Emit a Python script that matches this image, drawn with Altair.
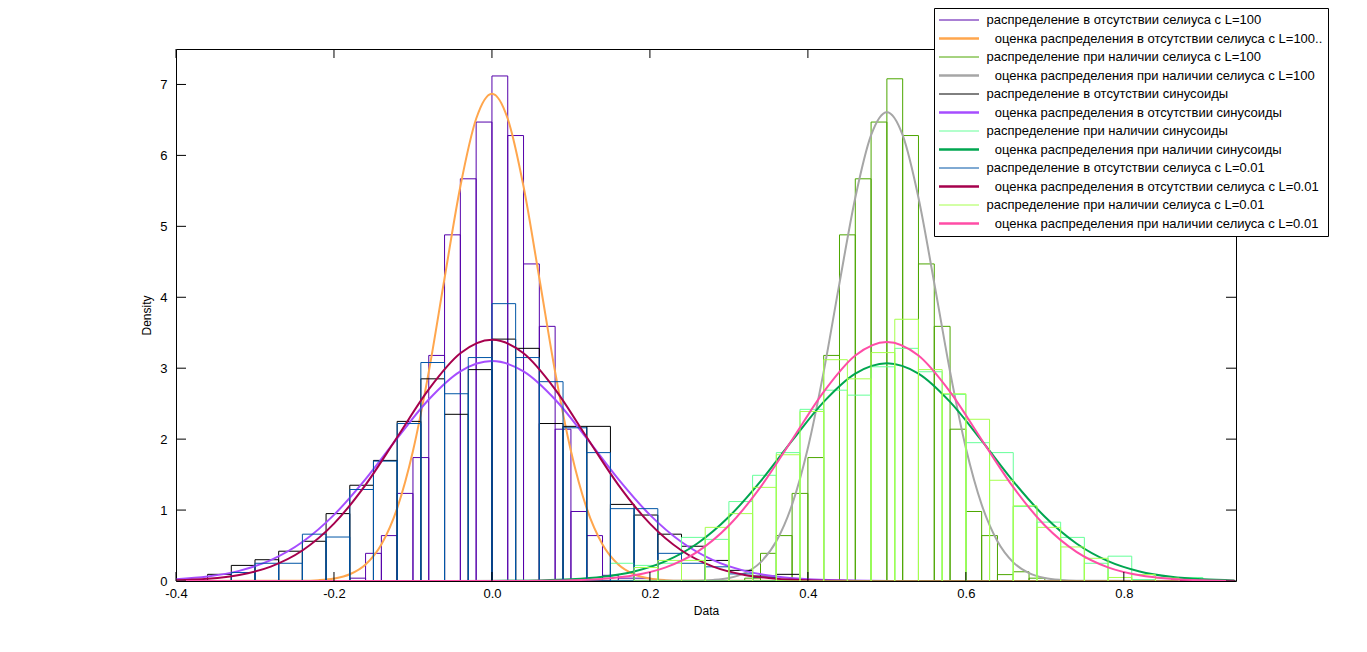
import altair as alt
import pandas as pd

FONT = "Liberation Sans"
PAD = "\u200b\u00a0\u00a0\u200a"

labels = [
    "распределение в отсутствии селиуса с L=100",
    PAD + "оценка распределения в отсутствии селиуса с L=100..",
    "распределение при наличии селиуса с L=100",
    PAD + "оценка распределения при наличии селиуса с L=100",
    "распределение в отсутствии синусоиды",
    PAD + "оценка распределения в отсутствии синусоиды",
    "распределение при наличии синусоиды",
    PAD + "оценка распределения при наличии синусоиды",
    "распределение в отсутствии селиуса с L=0.01",
    PAD + "оценка распределения в отсутствии селиуса с L=0.01",
    "распределение при наличии селиуса с L=0.01",
    PAD + "оценка распределения при наличии селиуса с L=0.01",
]
colors = [
    "#5500aa", "#ffa64d", "#4ca600", "#a6a6a6",
    "#000000", "#a64dff", "#66ff99", "#00a650",
    "#0055a6", "#a6004d", "#a6ff4d", "#ff4da6",
]

# histograms: first bin left edge, bin width, densities
h1_start, h1_width = -0.18, 0.02
h1_vals = [0.04, 0.39, 0.64, 1.235, 1.74, 3.18, 4.88, 5.67, 6.47, 7.12,
           6.28, 4.47, 3.59, 2.14, 0.98, 0.64, 0.08, 0.04, 0.04]
h2_start, h2_width = 0.32, 0.02
h2_vals = [0.04, 0.39, 0.64, 1.235, 1.74, 3.18, 4.88, 5.67, 6.47, 7.08,
           6.28, 4.47, 3.59, 2.14, 0.98, 0.64, 0.09, 0.13, 0.04]
h3_start, h3_width = -0.36, 0.03
h3_vals = [0.094, 0.22, 0.30, 0.42, 0.56, 0.95, 1.35, 1.70, 2.25, 2.85,
           2.35, 2.98, 3.41, 3.28, 2.22, 2.18, 2.18, 1.08, 0.93, 0.66,
           0.49, 0.29, 0.15, 0.07, 0.094]
h4_start, h4_width = 0.15, 0.03
h4_vals = [0.25, 0.22, 0.25, 0.615, 0.587, 1.12, 1.49, 1.81, 2.42, 2.69,
           2.62, 3.02, 3.28, 2.95, 2.63, 1.95, 1.81, 1.05, 0.83, 0.615,
           0.25, 0.35, 0.02, 0.0, 0.05, 0.02]
h5_start, h5_width = -0.33, 0.03
h5_vals = [0.12, 0.25, 0.25, 0.66, 0.62, 1.29, 1.69, 2.22, 3.08, 2.64,
           3.15, 3.91, 3.15, 2.81, 2.16, 1.81, 1.02, 1.02, 0.39, 0.25,
           0.20, 0.10, 0.05]
h6_start, h6_width = 0.18, 0.03
h6_vals = [0.19, 0.29, 0.29, 0.756, 0.95, 1.32, 1.78, 2.39, 3.12, 2.85,
           3.22, 3.69, 2.98, 2.64, 2.28, 1.42, 1.06, 0.756, 0.48, 0.32,
           0.05, 0.09, 0.04]

# fitted density curves
f1_x = [-0.40, -0.24, -0.22, -0.20, -0.18, -0.16, -0.14, -0.12, -0.10, -0.08, -0.06,
        -0.04, -0.02, 0.00, 0.02, 0.04, 0.06, 0.08, 0.10, 0.12, 0.14, 0.16, 0.18,
        0.20, 0.22, 0.24, 0.94]
f1_y = [0, 0.0034, 0.0114, 0.0347, 0.0948, 0.233, 0.515, 1.024, 1.832, 2.948, 4.268,
        5.561, 6.516, 6.87, 6.516, 5.561, 4.268, 2.948, 1.832, 1.024, 0.515, 0.233,
        0.0948, 0.0347, 0.0114, 0.0034, 0]
f2_x = [-0.40, 0.26, 0.28, 0.30, 0.32, 0.34, 0.36, 0.38, 0.40, 0.42, 0.44, 0.46, 0.48,
        0.50, 0.52, 0.54, 0.56, 0.58, 0.60, 0.62, 0.64, 0.66, 0.68, 0.70, 0.72, 0.74, 0.94]
f2_y = [0, 0.0047, 0.0149, 0.0428, 0.1116, 0.2627, 0.5595, 1.077, 1.875, 2.951, 4.200,
        5.403, 6.285, 6.61, 6.285, 5.403, 4.200, 2.951, 1.875, 1.077, 0.5595, 0.2627,
        0.1116, 0.0428, 0.0149, 0.0047, 0]
f3_x = [-0.40, -0.36, -0.32, -0.28, -0.24, -0.20, -0.16, -0.12, -0.08, -0.04, 0.00,
        0.04, 0.08, 0.12, 0.16, 0.20, 0.24, 0.28, 0.32, 0.36, 0.40, 0.44, 0.48, 0.52,
        0.56, 0.94]
f3_y = [0.0253, 0.0631, 0.143, 0.294, 0.549, 0.932, 1.437, 2.011, 2.558, 2.955, 3.10,
        2.955, 2.558, 2.011, 1.437, 0.932, 0.549, 0.294, 0.143, 0.0631, 0.0253, 0.0092,
        0.0031, 0.0009, 0.0002, 0]
f4_x = [-0.40, -0.06, -0.02, 0.02, 0.06, 0.10, 0.14, 0.18, 0.22, 0.26, 0.30, 0.34,
        0.38, 0.42, 0.46, 0.50, 0.54, 0.58, 0.62, 0.66, 0.70, 0.74, 0.78, 0.82, 0.86,
        0.90, 0.94]
f4_y = [0, 0.0002, 0.0008, 0.0027, 0.0083, 0.0233, 0.0588, 0.1349, 0.2806, 0.5293,
        0.9057, 1.405, 1.978, 2.525, 2.924, 3.07, 2.924, 2.525, 1.978, 1.405, 0.9057,
        0.5293, 0.2806, 0.1349, 0.0588, 0.0233, 0.0083]
f5_x = f3_x
f5_y = [0.0109, 0.0324, 0.0860, 0.2036, 0.4298, 0.8085, 1.356, 2.027, 2.702, 3.210,
        3.40, 3.210, 2.702, 2.027, 1.356, 0.8085, 0.4298, 0.2036, 0.0860, 0.0324,
        0.0109, 0.0033, 0.0009, 0.0002, 0.0, 0]
f6_x = f4_x
f6_y = [0, 0.0001, 0.0002, 0.0007, 0.0029, 0.0098, 0.0297, 0.0800, 0.1924, 0.4111,
        0.7818, 1.323, 1.992, 2.667, 3.179, 3.37, 3.179, 2.667, 1.992, 1.323, 0.7818,
        0.4111, 0.1924, 0.0800, 0.0297, 0.0098, 0.0029]

x_ticks = [-0.4, -0.2, 0, 0.2, 0.4, 0.6, 0.8]
y_ticks = [0, 1, 2, 3, 4, 5, 6, 7]

W, H = 1060, 532
x_scale = alt.Scale(domain=[-0.4, 0.942], nice=False, zero=False)
y_scale = alt.Scale(domain=[0, 7.5], nice=False, zero=False)

x_axis = alt.Axis(values=x_ticks, ticks=False, tickSize=0, domain=False, grid=False,
                  labelFont=FONT, labelFontSize=13, labelColor="black", labelPadding=6,
                  labelFlush=False, labelOverlap=False,
                  labelExpr="replace(datum.label, '\u2212', '-')",
                  title="Data", titleFont=FONT, titleFontSize=12, titleFontWeight="normal",
                  titleColor="black", titlePadding=5)
y_axis = alt.Axis(values=y_ticks, ticks=False, tickSize=0, domain=False, grid=False,
                  labelFont=FONT, labelFontSize=13, labelColor="black", labelPadding=9,
                  labelOverlap=False, title="Density", titleFont=FONT, titleFontSize=12,
                  titleFontWeight="normal", titleColor="black", titlePadding=6)

legend = alt.Legend(
    orient="none", legendX=758, legendY=-41, title=None,
    symbolType="stroke", symbolSize=1600, clipHeight=14, rowPadding=4.5,
    padding=5, symbolOffset=13.5, labelOffset=21,
    strokeColor="black", fillColor="white", cornerRadius=0,
    labelFont=FONT, labelFontSize=13, labelColor="black", labelLimit=600,
    symbolStrokeWidth=alt.ExprRef(expr="datum.index % 2 == 1 ? 2.5 : 1"),
)

X = alt.X("x:Q", scale=x_scale, axis=x_axis)
Y = alt.Y("y:Q", scale=y_scale, axis=y_axis)
C = alt.Color("series:N", scale=alt.Scale(domain=labels, range=colors), legend=legend)

hists = [(h1_start, h1_width, h1_vals), (h2_start, h2_width, h2_vals),
         (h3_start, h3_width, h3_vals), (h4_start, h4_width, h4_vals),
         (h5_start, h5_width, h5_vals), (h6_start, h6_width, h6_vals)]
fits = [(f1_x, f1_y), (f2_x, f2_y), (f3_x, f3_y), (f4_x, f4_y), (f5_x, f5_y), (f6_x, f6_y)]

layers = []
for i in range(6):
    start, width, vals = hists[i]
    lefts = [start + k * width for k in range(len(vals))]
    hdf = pd.DataFrame({"x": lefts, "x2": [l + width for l in lefts], "y": vals,
                        "series": labels[2 * i]})
    layers.append(
        alt.Chart(hdf).mark_rect(filled=False, strokeWidth=1, clip=True).encode(
            x=X, x2="x2:Q", y=Y, y2=alt.datum(0), color=C)
    )
    fx, fy = fits[i]
    fdf = pd.DataFrame({"x": fx, "y": fy, "series": labels[2 * i + 1]})
    layers.append(
        alt.Chart(fdf).mark_line(strokeWidth=2, interpolate="monotone", clip=True).encode(
            x=X, y=Y, color=C)
    )

xt = pd.DataFrame({"x": x_ticks})
yt = pd.DataFrame({"y": y_ticks})
tick_style = dict(color="black", strokeWidth=1)
layers += [
    alt.Chart(xt).mark_rule(**tick_style).encode(x=X, y=alt.value(H), y2=alt.value(H - 9)),
    alt.Chart(xt).mark_rule(**tick_style).encode(x=X, y=alt.value(0), y2=alt.value(9)),
    alt.Chart(yt).mark_rule(**tick_style).encode(y=Y, x=alt.value(0), x2=alt.value(10)),
    alt.Chart(yt).mark_rule(**tick_style).encode(y=Y, x=alt.value(W), x2=alt.value(W - 10)),
]

chart = alt.layer(*layers).properties(
    width=W, height=H,
    autosize=alt.AutoSizeParams(type="none"),
    padding={"left": 168, "top": 41, "right": 123, "bottom": 63},
    background="white",
).configure_view(stroke="black", strokeWidth=1)

chart.save("out.html", embed_options={"renderer": "svg", "actions": False})
